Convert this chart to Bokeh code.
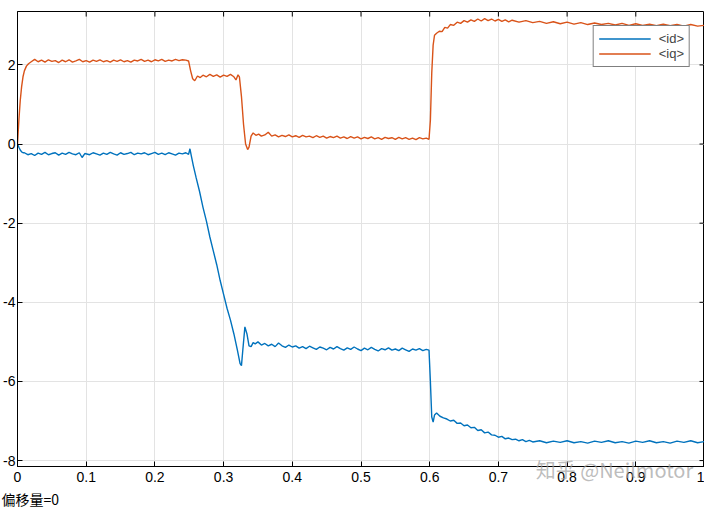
from bokeh.plotting import figure
from bokeh.models import LinearAxis, FixedTicker, Legend, LegendItem, Title, Range1d
from bokeh.embed import file_html
from bokeh.resources import INLINE

# ---- data ----
t_id = [0, 0.002, 0.004, 0.006, 0.008, 0.010, 0.015, 0.020, 0.025, 0.030, 0.035, 0.040, 0.045, 0.050,
        0.055, 0.060, 0.065, 0.070, 0.075, 0.080, 0.085, 0.090, 0.094, 0.098, 0.105, 0.110, 0.115, 0.120,
        0.125, 0.130, 0.135, 0.140, 0.145, 0.150, 0.155, 0.160, 0.165, 0.170, 0.175, 0.180, 0.185, 0.190,
        0.195, 0.200, 0.205, 0.210, 0.215, 0.220, 0.225, 0.230, 0.235, 0.240, 0.245, 0.249, 0.251, 0.253,
        0.256, 0.260, 0.265, 0.270, 0.275, 0.280, 0.285, 0.290, 0.295, 0.300, 0.305, 0.310, 0.315, 0.320,
        0.324, 0.326, 0.328, 0.331, 0.334, 0.337, 0.340, 0.343, 0.346, 0.350, 0.355, 0.360, 0.365, 0.370,
        0.375, 0.380, 0.385, 0.390, 0.395, 0.400, 0.405, 0.410, 0.415, 0.420, 0.425, 0.430, 0.435, 0.440,
        0.445, 0.450, 0.455, 0.460, 0.465, 0.470, 0.475, 0.480, 0.485, 0.490, 0.495, 0.500, 0.505, 0.510,
        0.515, 0.520, 0.525, 0.530, 0.535, 0.540, 0.545, 0.550, 0.555, 0.560, 0.565, 0.570, 0.575, 0.580,
        0.585, 0.590, 0.595, 0.599, 0.601, 0.603, 0.605, 0.607, 0.610, 0.615, 0.620, 0.625, 0.630, 0.635,
        0.640, 0.645, 0.650, 0.655, 0.660, 0.665, 0.670, 0.675, 0.680, 0.685, 0.690, 0.695, 0.700, 0.705,
        0.710, 0.715, 0.720, 0.725, 0.730, 0.735, 0.740, 0.745, 0.750, 0.760, 0.770, 0.780, 0.790, 0.800,
        0.810, 0.820, 0.830, 0.840, 0.850, 0.860, 0.870, 0.880, 0.890, 0.900, 0.910, 0.920, 0.930, 0.940,
        0.950, 0.960, 0.970, 0.980, 0.990, 1.000]
id_vals = [0, -0.08, -0.15, -0.20, -0.22, -0.22, -0.27, -0.24, -0.29, -0.23, -0.26, -0.21, -0.27, -0.24,
           -0.22, -0.28, -0.23, -0.26, -0.21, -0.25, -0.27, -0.22, -0.34, -0.24, -0.27, -0.22, -0.25, -0.28,
           -0.23, -0.26, -0.21, -0.25, -0.28, -0.22, -0.26, -0.24, -0.21, -0.27, -0.23, -0.25, -0.22, -0.27,
           -0.24, -0.21, -0.26, -0.23, -0.27, -0.22, -0.25, -0.28, -0.23, -0.25, -0.22, -0.26, -0.12, -0.30,
           -0.55, -0.85, -1.20, -1.60, -1.95, -2.35, -2.70, -3.05, -3.45, -3.80, -4.15, -4.45, -4.80, -5.20,
           -5.55, -5.60, -5.20, -4.62, -4.80, -5.10, -5.12, -5.02, -5.05, -5.00, -5.08, -5.04, -5.10, -5.06,
           -5.12, -5.03, -5.10, -5.14, -5.08, -5.13, -5.10, -5.16, -5.12, -5.17, -5.11, -5.15, -5.19, -5.13,
           -5.16, -5.20, -5.14, -5.18, -5.12, -5.17, -5.21, -5.15, -5.19, -5.13, -5.18, -5.22, -5.16, -5.20,
           -5.14, -5.19, -5.23, -5.17, -5.20, -5.15, -5.21, -5.18, -5.22, -5.16, -5.20, -5.24, -5.18, -5.21,
           -5.17, -5.22, -5.19, -5.21, -6.00, -6.90, -7.03, -6.85, -6.80, -6.88, -6.92, -6.95, -7.00, -6.98,
           -7.06, -7.05, -7.12, -7.10, -7.17, -7.16, -7.24, -7.22, -7.30, -7.28, -7.35, -7.36, -7.41, -7.39,
           -7.45, -7.43, -7.47, -7.46, -7.50, -7.47, -7.52, -7.49, -7.53, -7.50, -7.55, -7.51, -7.54, -7.50,
           -7.55, -7.52, -7.56, -7.51, -7.54, -7.50, -7.55, -7.52, -7.56, -7.51, -7.54, -7.50, -7.55, -7.52,
           -7.56, -7.51, -7.54, -7.50, -7.55, -7.52]

t_iq = [0, 0.002, 0.004, 0.006, 0.008, 0.010, 0.013, 0.016, 0.020, 0.025, 0.030, 0.035, 0.040, 0.045,
        0.050, 0.055, 0.060, 0.065, 0.070, 0.075, 0.080, 0.085, 0.090, 0.095, 0.100, 0.105, 0.110, 0.115,
        0.120, 0.125, 0.130, 0.135, 0.140, 0.145, 0.150, 0.155, 0.160, 0.165, 0.170, 0.175, 0.180, 0.185,
        0.190, 0.195, 0.200, 0.205, 0.210, 0.215, 0.220, 0.225, 0.230, 0.235, 0.240, 0.245, 0.249, 0.252,
        0.255, 0.258, 0.262, 0.266, 0.270, 0.275, 0.280, 0.285, 0.290, 0.295, 0.300, 0.305, 0.310, 0.315,
        0.318, 0.321, 0.323, 0.326, 0.329, 0.332, 0.335, 0.337, 0.340, 0.343, 0.347, 0.351, 0.355, 0.360,
        0.365, 0.370, 0.375, 0.380, 0.385, 0.390, 0.395, 0.400, 0.405, 0.410, 0.415, 0.420, 0.425, 0.430,
        0.435, 0.440, 0.445, 0.450, 0.455, 0.460, 0.465, 0.470, 0.475, 0.480, 0.485, 0.490, 0.495, 0.500,
        0.505, 0.510, 0.515, 0.520, 0.525, 0.530, 0.535, 0.540, 0.545, 0.550, 0.555, 0.560, 0.565, 0.570,
        0.575, 0.580, 0.585, 0.590, 0.595, 0.599, 0.601, 0.603, 0.605, 0.607, 0.610, 0.614, 0.618, 0.622,
        0.626, 0.630, 0.635, 0.640, 0.645, 0.650, 0.655, 0.660, 0.665, 0.670, 0.675, 0.680, 0.685, 0.690,
        0.695, 0.700, 0.705, 0.710, 0.715, 0.720, 0.730, 0.740, 0.750, 0.760, 0.770, 0.780, 0.790, 0.800,
        0.810, 0.820, 0.830, 0.840, 0.850, 0.860, 0.870, 0.880, 0.890, 0.900, 0.910, 0.920, 0.930, 0.940,
        0.950, 0.960, 0.970, 0.980, 0.990, 1.000]
iq_vals = [0, 0.60, 1.10, 1.45, 1.70, 1.85, 1.97, 2.03, 2.08, 2.14, 2.08, 2.12, 2.07, 2.13,
           2.09, 2.11, 2.06, 2.12, 2.08, 2.13, 2.07, 2.10, 2.14, 2.08, 2.11, 2.07, 2.12, 2.09,
           2.13, 2.08, 2.11, 2.07, 2.12, 2.09, 2.13, 2.08, 2.11, 2.07, 2.12, 2.10, 2.14, 2.09,
           2.12, 2.08, 2.13, 2.10, 2.14, 2.09, 2.12, 2.10, 2.14, 2.11, 2.13, 2.12, 2.10, 1.85,
           1.65, 1.60, 1.72, 1.68, 1.74, 1.70, 1.76, 1.71, 1.75, 1.69, 1.74, 1.71, 1.76, 1.70,
           1.62, 1.75, 1.70, 1.20, 0.50, 0.00, -0.14, -0.08, 0.20, 0.28, 0.22, 0.25, 0.20, 0.23,
           0.30, 0.20, 0.23, 0.18, 0.22, 0.19, 0.23, 0.18, 0.21, 0.17, 0.22, 0.18, 0.20, 0.16,
           0.21, 0.17, 0.20, 0.15, 0.19, 0.16, 0.20, 0.15, 0.18, 0.14, 0.19, 0.15, 0.18, 0.13,
           0.17, 0.14, 0.18, 0.13, 0.16, 0.12, 0.17, 0.14, 0.16, 0.12, 0.17, 0.13, 0.16, 0.12,
           0.15, 0.11, 0.16, 0.13, 0.15, 0.12, 0.60, 1.80, 2.50, 2.75, 2.80, 2.85, 2.84, 2.95,
           2.93, 3.02, 3.00, 3.08, 3.05, 3.12, 3.08, 3.14, 3.10, 3.16, 3.11, 3.17, 3.12, 3.16,
           3.11, 3.15, 3.10, 3.14, 3.09, 3.13, 3.08, 3.12, 3.07, 3.10, 3.05, 3.09, 3.04, 3.08,
           3.03, 3.07, 3.02, 3.06, 3.02, 3.05, 3.01, 3.05, 3.00, 3.04, 3.00, 3.03, 2.99, 3.03,
           2.99, 3.02, 2.98, 3.02, 2.98, 3.00]

x_ticks = [0, 0.1, 0.2, 0.3, 0.4, 0.5, 0.6, 0.7, 0.8, 0.9, 1]
x_tick_labels = ["0", "0.1", "0.2", "0.3", "0.4", "0.5", "0.6", "0.7", "0.8", "0.9", "1"]
y_ticks = [-8, -6, -4, -2, 0, 2]
y_tick_labels = ["-8", "-6", "-4", "-2", "0", "2"]
series_names = ["<id>", "<iq>"]
footer_text = "偏移量=0"
watermark_text = "知乎 @Neilmotor"

BLUE = "#0072BD"
ORANGE = "#D95319"
FONT = "Liberation Sans"
X0, X1 = 0, 1
Y0, Y1 = -8.15, 3.35

p = figure(width=704, height=508, output_backend="svg", toolbar_location=None,
           x_range=Range1d(X0, X1), y_range=Range1d(Y0, Y1),
           min_border_left=0, min_border_right=0, min_border_top=11, min_border_bottom=0,
           x_axis_location=None, y_axis_location=None)
p.background_fill_color = "white"
p.border_fill_color = "white"
p.outline_line_color = "black"
p.outline_line_width = 1

def make_axis(ticks, labels):
    ax = LinearAxis(ticker=FixedTicker(ticks=ticks),
                    major_label_overrides={k: v for k, v in zip(ticks, labels)})
    ax.major_tick_in = 5
    ax.major_tick_out = 0
    ax.minor_tick_in = 0
    ax.minor_tick_out = 0
    ax.axis_line_color = "black"
    ax.major_tick_line_color = "black"
    ax.major_label_text_font = FONT
    ax.major_label_text_font_size = "14px"
    ax.major_label_text_color = "black"
    ax.major_label_standoff = 2
    return ax

xb = make_axis(x_ticks, x_tick_labels)
xb.major_label_standoff = 5
# the grey watermark sits on the x-axis label row; the label is centred on the
# frame's right end, so trailing ideographic spaces push the visible part left
xb.axis_label = watermark_text + "\u3000" * 9
xb.axis_label_align = "end"
xb.axis_label_standoff = -30
xb.axis_label_text_font = "Noto Sans CJK SC"
xb.axis_label_text_font_size = "20px"
xb.axis_label_text_font_style = "normal"
xb.axis_label_text_color = "#a0a0a0"
xb.axis_label_text_alpha = 0.7
p.add_layout(xb, "below")
yl = make_axis(y_ticks, y_tick_labels)
p.add_layout(yl, "left")

p.xgrid.ticker = FixedTicker(ticks=x_ticks)
p.ygrid.ticker = FixedTicker(ticks=y_ticks)
for g in (p.xgrid, p.ygrid):
    g.grid_line_color = "#e3e3e3"
    g.grid_line_width = 1

# tick marks on the top and right box edges (from the tick arrays and range ends)
tick_dy = (Y1 - Y0) * 5 / 450
tick_dx = (X1 - X0) * 5 / 689
p.segment(x0=x_ticks, y0=[Y1] * len(x_ticks), x1=x_ticks, y1=[Y1 - tick_dy] * len(x_ticks),
          line_color="black", line_width=1)
p.segment(x0=[X1] * len(y_ticks), y0=y_ticks, x1=[X1 - tick_dx] * len(y_ticks), y1=y_ticks,
          line_color="black", line_width=1)

r_id = p.line(t_id, id_vals, line_color=BLUE, line_width=1.4)
r_iq = p.line(t_iq, iq_vals, line_color=ORANGE, line_width=1.4)

legend = Legend(items=[LegendItem(label=series_names[0], renderers=[r_id]),
                       LegendItem(label=series_names[1], renderers=[r_iq])],
                location="top_right")
legend.margin = 14
legend.padding = 5
legend.spacing = 0
legend.glyph_width = 52
legend.glyph_height = 15
legend.label_text_font = FONT
legend.label_text_font_size = "13px"
legend.label_standoff = 8
legend.border_line_color = "black"
legend.border_line_width = 1
legend.background_fill_color = "white"
legend.background_fill_alpha = 1
p.add_layout(legend)

footer = Title(text=footer_text, align="left", offset=-16, standoff=0,
               text_font="Noto Sans CJK SC", text_font_size="14px", text_font_style="normal",
               text_color="black")
p.add_layout(footer, "below")

open("out.html", "w").write(file_html(p, INLINE))
